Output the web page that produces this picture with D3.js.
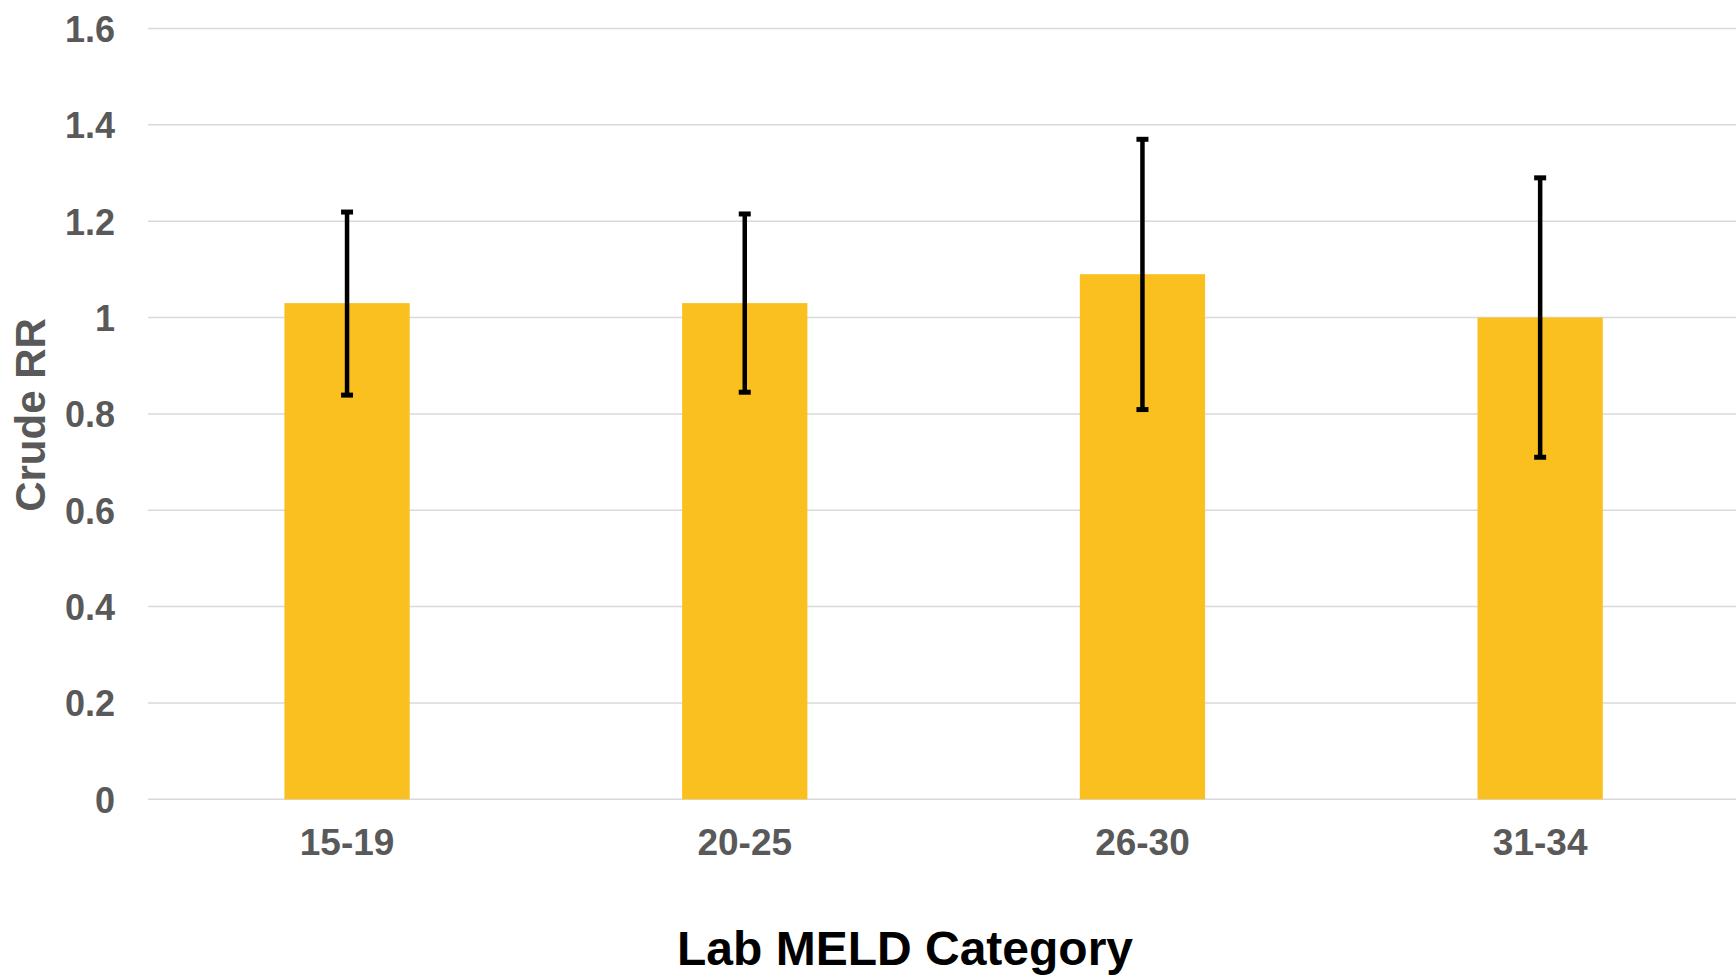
<!DOCTYPE html>
<html>
<head>
<meta charset="utf-8">
<script src="https://cdn.jsdelivr.net/npm/d3@7"></script>
<style>
  html, body { margin: 0; padding: 0; background: #fff; }
  svg { display: block; }
  text { font-family: "Liberation Sans", Arial, sans-serif; font-weight: bold; }
</style>
</head>
<body>
<svg id="chart" width="1736" height="976"></svg>
<script>
// ---- data ----
const categories = ["15-19", "20-25", "26-30", "31-34"];
const crudeRR   = [1.03, 1.03, 1.09, 1.00];
const ciLower   = [0.839, 0.845, 0.809, 0.71];
const ciUpper   = [1.219, 1.215, 1.370, 1.290];
const yTicks    = [0, 0.2, 0.4, 0.6, 0.8, 1, 1.2, 1.4, 1.6];
const yTitle    = "Crude RR";
const xTitle    = "Lab MELD Category";

// ---- layout ----
const W = 1736, H = 976;
const plot = { left: 148, right: 1736, top: 28.5, bottom: 799.3 };

const svg = d3.select("#chart");

const x = d3.scaleBand()
  .domain(categories)
  .range([148.2, 1739])
  .paddingInner(0.685)
  .paddingOuter(0.3425);

const y = d3.scaleLinear()
  .domain([0, 1.6])
  .range([plot.bottom, plot.top]);

// gridlines
svg.append("g")
  .selectAll("line")
  .data(yTicks)
  .join("line")
  .attr("x1", plot.left)
  .attr("x2", plot.right)
  .attr("y1", d => y(d))
  .attr("y2", d => y(d))
  .attr("stroke", "#d9d9d9")
  .attr("stroke-width", 1.5);

// y axis labels
const yAxis = d3.axisLeft(y).tickValues(yTicks).tickFormat(d => d3.format("")(d)).tickSize(0).tickPadding(0);
const yg = svg.append("g").attr("transform", `translate(115,0)`).call(yAxis);
yg.select(".domain").remove();
yg.selectAll("text")
  .attr("fill", "#595959")
  .attr("font-size", 36)
  .attr("font-family", "'Liberation Sans', Arial, sans-serif")
  .attr("font-weight", "bold")
  .attr("dy", "0.36em");

// bars
svg.append("g")
  .selectAll("rect")
  .data(categories)
  .join("rect")
  .attr("x", d => x(d))
  .attr("width", x.bandwidth())
  .attr("y", (d, i) => y(crudeRR[i]))
  .attr("height", (d, i) => y(0) - y(crudeRR[i]))
  .attr("fill", "#FAC01F");

// error bars
const eb = svg.append("g").selectAll("g")
  .data(categories)
  .join("g")
  .attr("transform", d => `translate(${x(d) + x.bandwidth() / 2},0)`);

eb.append("line")
  .attr("x1", 0).attr("x2", 0)
  .attr("y1", (d, i) => y(ciUpper[i]))
  .attr("y2", (d, i) => y(ciLower[i]))
  .attr("stroke", "#000")
  .attr("stroke-width", 4.5);

eb.append("line")
  .attr("x1", -6).attr("x2", 6)
  .attr("y1", (d, i) => y(ciUpper[i]))
  .attr("y2", (d, i) => y(ciUpper[i]))
  .attr("stroke", "#000")
  .attr("stroke-width", 5);

eb.append("line")
  .attr("x1", -6).attr("x2", 6)
  .attr("y1", (d, i) => y(ciLower[i]))
  .attr("y2", (d, i) => y(ciLower[i]))
  .attr("stroke", "#000")
  .attr("stroke-width", 5);

// x axis labels
const xAxis = d3.axisBottom(x).tickSize(0).tickPadding(0);
const xg = svg.append("g").attr("transform", `translate(0,${plot.bottom})`).call(xAxis);
xg.select(".domain").remove();
xg.selectAll("text")
  .attr("fill", "#595959")
  .attr("font-size", 37)
  .attr("font-family", "'Liberation Sans', Arial, sans-serif")
  .attr("font-weight", "bold")
  .attr("y", 56)
  .attr("dy", 0);

// axis titles
svg.append("text")
  .attr("transform", `translate(45,415) rotate(-90)`)
  .attr("text-anchor", "middle")
  .attr("fill", "#595959")
  .attr("font-size", 42)
  .text(yTitle);

svg.append("text")
  .attr("x", 905)
  .attr("y", 965)
  .attr("text-anchor", "middle")
  .attr("fill", "#000")
  .attr("font-size", 48)
  .text(xTitle);
</script>
</body>
</html>
